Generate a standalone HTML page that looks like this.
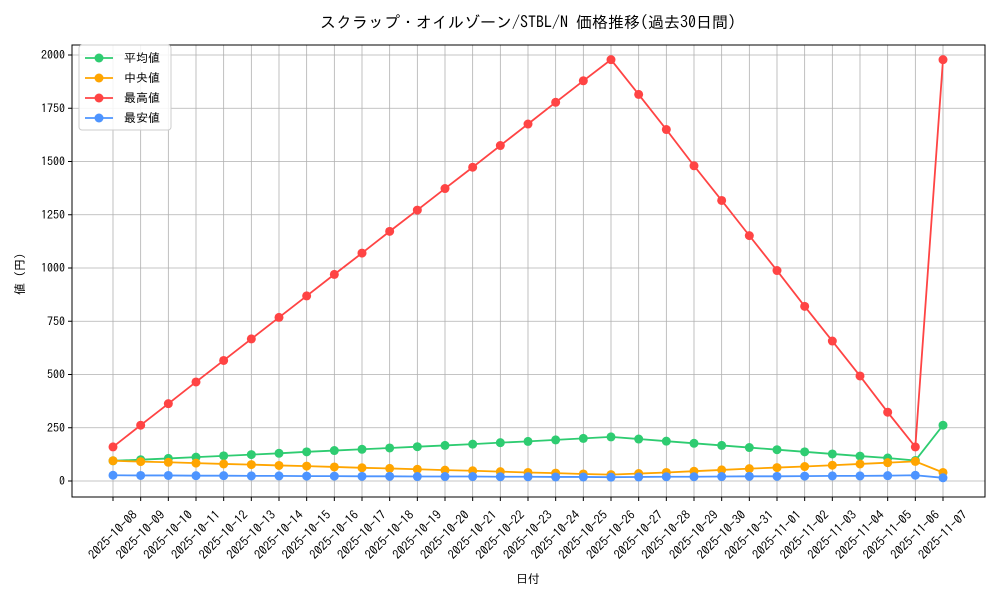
<!DOCTYPE html>
<html><head><meta charset="utf-8"><style>
body{margin:0;background:#fff}
svg text{font-family:"IPAGothic","Noto Sans CJK JP",sans-serif;fill:#000}
</style></head><body>
<svg id="chart" width="1000" height="600">
<text x="528" y="28" text-anchor="middle" font-size="16">スクラップ・オイルゾーン/STBL/N 価格推移(過去30日間)</text>
<g id="grid"></g><g id="axes"></g><g id="series"></g>
<text x="528" y="583" text-anchor="middle" font-size="12">日付</text>
<text transform="translate(24,271) rotate(-90)" text-anchor="middle" font-size="12">値（円）</text>
</svg>
<script>
const dates=["2025-10-08","2025-10-09","2025-10-10","2025-10-11","2025-10-12","2025-10-13","2025-10-14","2025-10-15","2025-10-16","2025-10-17","2025-10-18","2025-10-19","2025-10-20","2025-10-21","2025-10-22","2025-10-23","2025-10-24","2025-10-25","2025-10-26","2025-10-27","2025-10-28","2025-10-29","2025-10-30","2025-10-31","2025-11-01","2025-11-02","2025-11-03","2025-11-04","2025-11-05","2025-11-06","2025-11-07"];
const avgVals=[95,100,106,112,118,124,130,137,143,149,155,161,167,173,180,186,193,200,207,197,187,177,167,157,147,137,127,117,108,96,262];
const medVals=[95,91,88,84,80,77,73,70,66,62,59,55,51,48,44,40,37,33,30,35,40,46,52,58,63,68,74,80,86,92,40];
const maxVals=[160,262,363,465,566,667,768,869,970,1070,1172,1272,1373,1473,1575,1676,1778,1879,1978,1815,1650,1480,1317,1152,988,820,657,493,323,160,1978];
const minVals=[27,26,26,25,25,24,24,23,23,22,22,21,21,21,20,20,19,19,18,19,20,20,21,22,22,23,24,24,25,27,15];
const yTicks=[0,250,500,750,1000,1250,1500,1750,2000];
const seriesNames=["平均値","中央値","最高値","最安値"];
const NS="http://www.w3.org/2000/svg";
const L=72,R=985,T=45,B=497;
const xs=i=>113+i*(943-113)/(dates.length-1);
const ys=v=>481-v*(481-55)/2000;
function mk(t,a,p){const e=document.createElementNS(NS,t);for(const k in a)e.setAttribute(k,a[k]);p.appendChild(e);return e;}
const grid=document.getElementById('grid'),axes=document.getElementById('axes'),ser=document.getElementById('series');
dates.forEach((d,i)=>{
 const g=mk('line',{x1:xs(i),x2:xs(i),y1:T,y2:B,stroke:'#b0b0b0','stroke-width':0.8},grid);
 
 
 mk('line',{x1:xs(i),x2:xs(i),y1:B,y2:B+4,stroke:'#000'},axes);
 const cy=B+38;
 const t=mk('text',{x:xs(i),y:cy+4,'font-size':12.5,'text-anchor':'middle',transform:`rotate(-45 ${xs(i)} ${cy})`},axes);
 t.textContent=d;
 
 
});
yTicks.forEach(v=>{
 const g=mk('line',{x1:L,x2:R,y1:ys(v),y2:ys(v),stroke:'#b0b0b0','stroke-width':0.8},grid);
 
 
 mk('line',{x1:L-4,x2:L,y1:ys(v),y2:ys(v),stroke:'#000'},axes);
 const t=mk('text',{x:L-7,y:ys(v)+4,'font-size':12,'text-anchor':'end'},axes);
 t.textContent=v;
 
 
});
const frame=mk('rect',{x:L,y:T,width:R-L,height:B-T,fill:'none',stroke:'#000','stroke-width':1},axes);


const data=[avgVals,medVals,maxVals,minVals];
const colors=['#2ecc71','#ffa500','#ff4444','#4d94ff'];
const sNames=['average','median','max','min'];
data.forEach((arr,s)=>{
 const pl=mk('polyline',{points:arr.map((v,i)=>xs(i)+','+ys(v)).join(' '),fill:'none',stroke:colors[s],'stroke-width':1.8},ser);
 
 
 arr.forEach((v,i)=>{
  const c=mk('circle',{cx:xs(i),cy:ys(v),r:4.5,fill:colors[s]},ser);
  
  
 });
});
const lg=mk('g',{},ser);


mk('rect',{x:79,y:45,width:92,height:85,rx:3,fill:'#fff','fill-opacity':0.85,stroke:'#ccc'},lg);
seriesNames.forEach((n,s)=>{
 const y=58+s*20;
 const e=mk('g',{},lg);
 
 
 mk('line',{x1:85,x2:113,y1:y,y2:y,stroke:colors[s],'stroke-width':1.8},e);
 mk('circle',{cx:99,cy:y,r:4.5,fill:colors[s]},e);
 const t=mk('text',{x:124,y:y+4,'font-size':12},e);
 t.textContent=n;
});
</script>
</body></html>
